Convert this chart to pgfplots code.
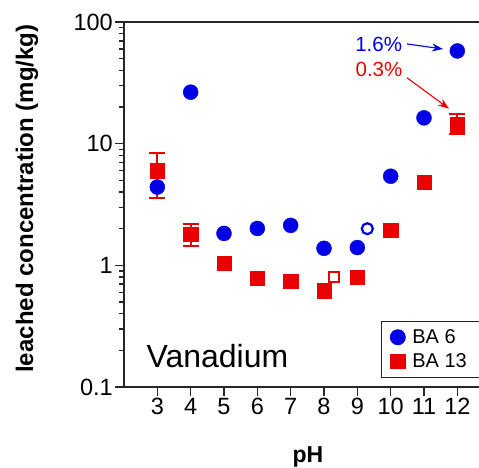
\documentclass[border=0pt]{standalone}
\usepackage{fontspec}
\setmainfont{Liberation Sans}
\usepackage{pgfplots}
\pgfplotsset{compat=1.18}
\usetikzlibrary{arrows.meta}
\definecolor{myblue}{RGB}{0,0,230}
\definecolor{myred}{RGB}{235,0,0}
\begin{document}
\begin{tikzpicture}
\begin{axis}[
 scale only axis, width=355pt, height=365pt,
 xmin=2, xmax=12.65, ymode=log, ymin=0.1, ymax=100,
 axis x line=bottom, axis y line=left,
 axis line style={-, line width=1.6pt, black!85},
 xtick={3,4,5,6,7,8,9,10,11,12},
 ytick={0.1,1,10,100}, yticklabels={0.1,1,10,100},
 minor ytick={0.2,0.3,0.4,0.5,0.6,0.7,0.8,0.9,2,3,4,5,6,7,8,9,20,30,40,50,60,70,80,90},
 tick align=outside, major tick length=9pt, minor tick length=5pt,
 every tick/.style={black!85, line width=1.4pt},
 tick label style={font=\fontsize{23.5}{23.5}\selectfont},
 xticklabel style={inner sep=2pt},
 yticklabel style={inner sep=2pt},
 /pgf/number format/assume math mode=true,
 xlabel={pH}, ylabel={leached concentration (mg/kg)},
 every axis y label/.style={at={(axis description cs:-0.273,0.516)}, rotate=90, anchor=center,
   font=\fontsize{24}{24}\selectfont\bfseries},
 every axis x label/.style={at={(axis description cs:0.518,-0.192)}, anchor=center,
   font=\fontsize{23}{23}\selectfont\bfseries},
 legend style={at={(rel axis cs:1.012,0.025)}, anchor=south east, draw=black!85, line width=0.9pt,
   font=\fontsize{20}{20}\selectfont, legend cell align=left, row sep=5pt, inner xsep=9pt, inner ysep=6pt,
   nodes={inner xsep=7pt}},
 legend image code/.code={\draw[#1] plot coordinates {(0.25cm,0cm)};},
 clip=false,
]
\coordinate (bl) at (rel axis cs:0,0);
\coordinate (tr) at (rel axis cs:1,1);
\draw[line width=1.6pt, black!85] (rel axis cs:0,1) -- (rel axis cs:1,1);
% error bars of BA 13
\addplot[forget plot, myred, only marks, mark=none,
  error bars/.cd, y dir=both, y explicit,
  error bar style={line width=2pt, myred},
  error mark options={rotate=90, mark size=8pt, line width=2pt, myred}]
 coordinates {
 (3,6.0) += (0,2.4) -= (0,2.4)
 (4,1.8) += (0,0.37) -= (0,0.37)
 (12,14.3) += (0,3.3) -= (0,2.2)
 };
\addplot[only marks, mark=*, mark size=7.5pt, color=myblue, mark options={fill=myblue, draw=myblue}]
 coordinates {(3,4.4) (4,26.5) (5,1.83) (6,2.01) (7,2.13) (8,1.38) (9,1.40) (10,5.4) (11,16.3) (12,57.8)};
\addlegendentry{BA 6}
\addplot[only marks, mark=square*, mark size=7.2pt, color=myred, mark options={fill=myred, draw=myred}]
 coordinates {(3,6.0) (4,1.8) (5,1.04) (6,0.78) (7,0.74) (8,0.62) (9,0.80) (10,1.94) (11,4.8) (12,14.3)};
\addlegendentry{BA 13}
% open markers
\addplot[forget plot, only marks, mark=o, mark size=5.5pt, myblue, mark options={line width=2.2pt, fill=white}]
 coordinates {(9.3,2.0)};
\addplot[forget plot, only marks, mark=square, mark size=5pt, myred, mark options={line width=2.2pt, fill=white}]
 coordinates {(8.3,0.80)};
% annotations
\node[anchor=base west, font=\fontsize{32}{32}\selectfont] at (axis cs:2.57,0.146) {Vanadium};
\node[myblue, font=\fontsize{20.5}{20.5}\selectfont] at (axis cs:9.64,66) {1.6\%};
\node[myred, font=\fontsize{20.5}{20.5}\selectfont] at (axis cs:9.65,41) {0.3\%};
\draw[-{Stealth[length=11pt,width=8pt]}, myblue, line width=1.1pt] (axis cs:10.49,66) -- (axis cs:11.57,60);
\draw[-{Stealth[length=11pt,width=8pt]}, myred, line width=1.1pt] (axis cs:10.49,34.8) -- (axis cs:11.75,19.4);
\end{axis}
\pgfresetboundingbox
\path ([xshift=-124pt,yshift=-80pt]bl) rectangle ([yshift=22pt]tr);
\end{tikzpicture}
\end{document}
